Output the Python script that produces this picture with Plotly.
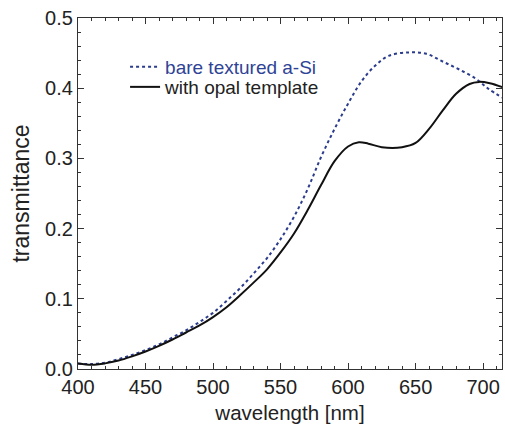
import plotly.graph_objects as go

wl_opal = [400, 410, 420, 430, 440, 450, 460, 470, 480, 490, 500, 510, 520, 530, 540, 550,
           560, 570, 580, 590, 600, 608, 615, 625, 640, 650, 660, 670, 680, 690, 697, 705, 715]
t_opal = [0.008, 0.006, 0.008, 0.012, 0.018, 0.025, 0.033, 0.042, 0.052, 0.062, 0.074, 0.088,
          0.105, 0.123, 0.142, 0.166, 0.193, 0.226, 0.262, 0.296, 0.317, 0.323, 0.321, 0.316,
          0.316, 0.322, 0.342, 0.368, 0.392, 0.406, 0.409, 0.407, 0.401]

wl_bare = [400, 410, 420, 430, 440, 450, 460, 470, 480, 490, 500, 510, 520, 530, 540, 550,
           560, 570, 580, 590, 600, 610, 620, 630, 645, 658, 670, 682, 695, 704, 715]
t_bare = [0.008, 0.007, 0.009, 0.014, 0.020, 0.027, 0.035, 0.045, 0.055, 0.067, 0.080, 0.097,
          0.115, 0.136, 0.158, 0.185, 0.217, 0.256, 0.302, 0.342, 0.378, 0.410, 0.432, 0.446,
          0.451, 0.449, 0.438, 0.427, 0.413, 0.399, 0.386]

x_ticks = [400, 450, 500, 550, 600, 650, 700]
y_ticks = [0.0, 0.1, 0.2, 0.3, 0.4, 0.5]
y_tick_text = ["0.0", "0.1", "0.2", "0.3", "0.4", "0.5"]

FONT = "Liberation Sans, Arial"
TXT = "#222222"

fig = go.Figure()
fig.add_trace(go.Scatter(
    x=wl_bare, y=t_bare, mode="lines", line_shape="spline",
    name='<span style="color:#2f4396">bare textured a-Si</span>',
    line=dict(color="#2b3c8c", width=2, dash="3px,3px"),
    legend="legend",
))
fig.add_trace(go.Scatter(
    x=wl_opal, y=t_opal, mode="lines", line_shape="spline",
    name="with opal template",
    line=dict(color="#111111", width=2),
    legend="legend2",
))

axis_common = dict(
    showline=True, linecolor="#333333", linewidth=1.3, mirror="ticks",
    ticks="inside", ticklen=6, tickwidth=1.2, tickcolor="#333333",
    showgrid=False, zeroline=False,
    tickfont=dict(family=FONT, size=20, color=TXT),
)

legend_common = dict(x=0.111, xanchor="left", yanchor="top",
                     bgcolor="rgba(0,0,0,0)",
                     font=dict(family=FONT, size=19, color=TXT))

fig.update_layout(
    width=505, height=435,
    margin=dict(l=78, r=3, t=18, b=66),
    paper_bgcolor="white", plot_bgcolor="white",
    xaxis=dict(range=[400, 714], tickvals=x_ticks,
               minor=dict(ticks="inside", dtick=10, ticklen=3, tickcolor="#333333"),
               title=dict(text="wavelength [nm]", standoff=8,
                          font=dict(family=FONT, size=20.5, color=TXT)),
               **axis_common),
    yaxis=dict(range=[0, 0.5], tickvals=y_ticks, ticktext=y_tick_text,
               minor=dict(ticks="inside", dtick=0.02, ticklen=3, tickcolor="#333333"),
               title=dict(text="transmittance", standoff=8,
                          font=dict(family=FONT, size=23, color=TXT)),
               **axis_common),
    legend=dict(y=0.9145, **legend_common),
    legend2=dict(y=0.8575, **legend_common),
    showlegend=True,
)

fig.write_html("out.html")
